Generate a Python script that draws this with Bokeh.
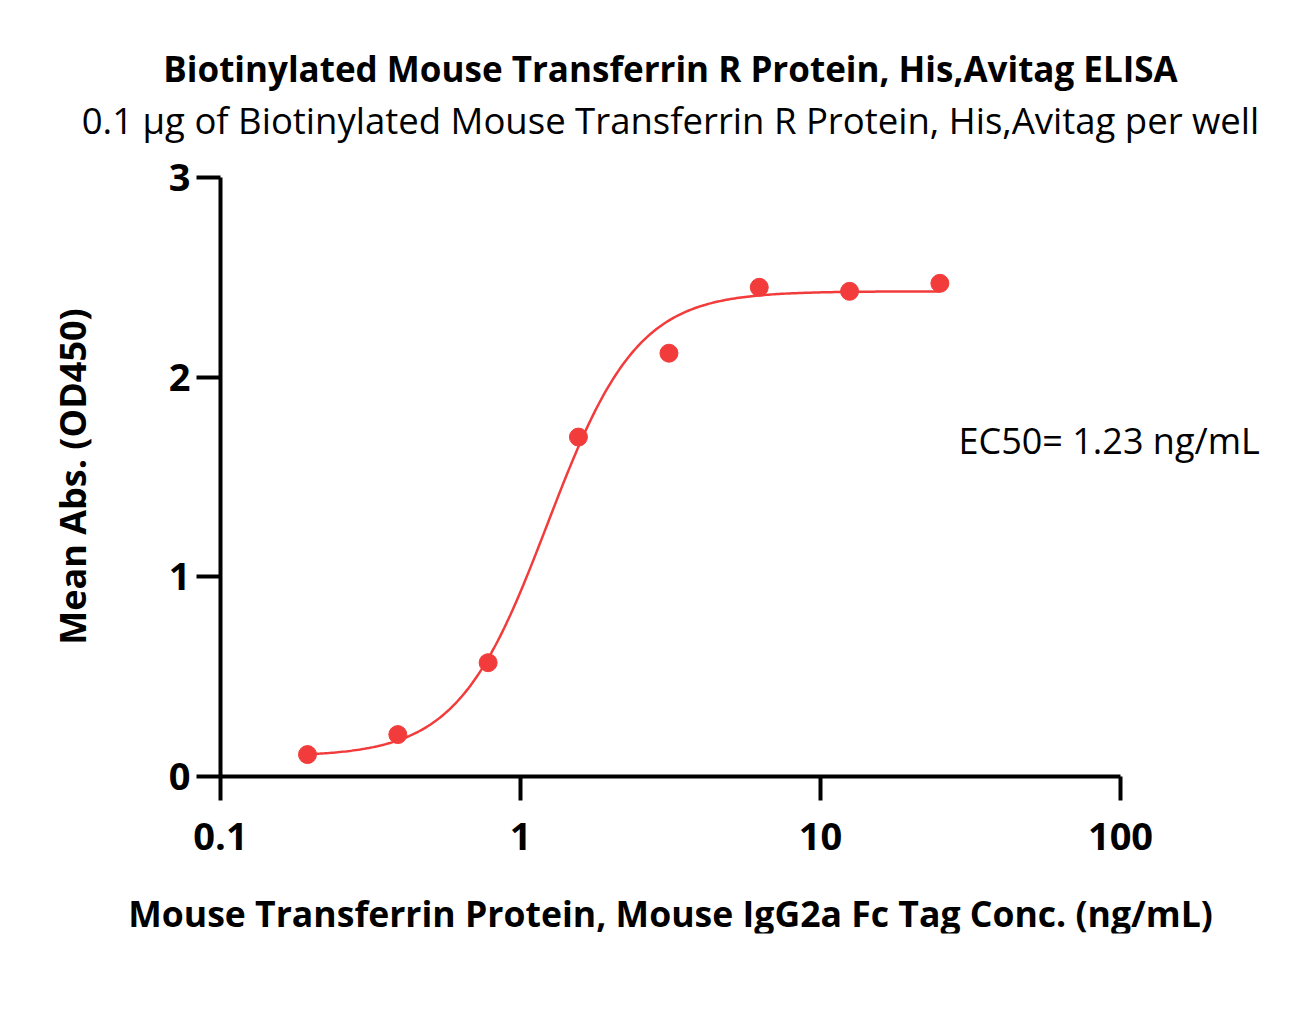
import math
import numpy as np
from bokeh.plotting import figure
from bokeh.models import Label, FixedTicker, CustomJSTickFormatter
from bokeh.embed import file_html
from bokeh.resources import INLINE

# ---- data ----
conc = [0.195, 0.39, 0.78, 1.56, 3.125, 6.25, 12.5, 25.0]
mean_abs = [0.11, 0.21, 0.57, 1.70, 2.12, 2.45, 2.43, 2.47]
# 4PL fit parameters
fit_bottom = 0.10
fit_top = 2.43
fit_ec50 = 1.23
fit_hill = 2.9
x_ticks = [0.1, 1, 10, 100]
y_ticks = [0, 1, 2, 3]

title_text = "Biotinylated Mouse Transferrin R Protein, His,Avitag ELISA"
subtitle_text = "0.1 \u03bcg of Biotinylated Mouse Transferrin R Protein, His,Avitag per well"
x_label = "Mouse Transferrin Protein, Mouse IgG2a Fc Tag Conc. (ng/mL)"
y_label = "Mean Abs. (OD450)"
ec50_text = "EC50= 1.23 ng/mL"

FONT = "Open Sans"
RED = "#F23C3C"

xs = np.logspace(np.log10(conc[0]), np.log10(conc[-1]), 300)
ys = fit_bottom + (fit_top - fit_bottom) / (1 + (fit_ec50 / xs) ** fit_hill)

# layout (page pixels): axes span x 220..1120 (0.1..100), y 776..177 (0..3)
FL, FR, FT, FB = 54, 1286, 8, 933
BOTTOM = 97
W, H = FR + 14, FB + BOTTOM
FW, FH = FR - FL, FB - FT
AX_L, AX_B = 220, 776
PX_DEC = 300.0          # pixels per decade on x
PX_UNIT = 599.0 / 3.0   # pixels per unit on y


def px_to_x(px):
    return 0.1 * 10 ** ((px - AX_L) / PX_DEC)


def py_to_y(py):
    return (AX_B - py) / PX_UNIT


p = figure(width=W, height=H, x_axis_type="log",
           x_range=(px_to_x(FL), px_to_x(FR)), y_range=(py_to_y(FB), py_to_y(FT)),
           output_backend="svg", toolbar_location=None,
           min_border_left=FL, min_border_top=FT,
           min_border_right=W - FR, min_border_bottom=BOTTOM,
           frame_width=FW, frame_height=FH)
p.outline_line_color = None
p.grid.visible = False
p.title.visible = False
p.background_fill_color = "white"

p.line(xs, ys, line_color=RED, line_width=2.5)
p.scatter(conc, mean_abs, size=18, fill_color=RED, line_color=RED)

for ax in (p.xaxis[0], p.yaxis[0]):
    ax.axis_line_width = 4
    ax.axis_line_color = "black"
    ax.major_tick_line_width = 4
    ax.major_tick_line_color = "black"
    ax.major_tick_out = 24
    ax.major_tick_in = 0
    ax.minor_tick_line_color = None
    ax.major_label_text_font = FONT
    ax.major_label_text_font_style = "bold"
    ax.major_label_text_font_size = "38px"
    ax.major_label_text_color = "black"

p.xaxis.bounds = (x_ticks[0], x_ticks[-1])
p.yaxis.bounds = (y_ticks[0], y_ticks[-1])
p.yaxis.fixed_location = x_ticks[0]
p.xaxis.fixed_location = y_ticks[0]
p.xaxis.ticker = FixedTicker(ticks=x_ticks)
p.xaxis.formatter = CustomJSTickFormatter(code="return tick < 1 ? tick.toString() : tick.toFixed(0);")
p.yaxis.ticker = FixedTicker(ticks=y_ticks)
p.xaxis.major_label_standoff = 22
p.yaxis.major_label_standoff = 6

x_mid = (x_ticks[0] * x_ticks[-1]) ** 0.5
p.add_layout(Label(x=x_mid, y=py_to_y(68), text=title_text, text_font=FONT,
                   text_font_size="35px", text_font_style="bold", text_align="center",
                   text_baseline="middle", text_color="black"))
p.add_layout(Label(x=x_mid, y=py_to_y(119), text=subtitle_text, text_font=FONT,
                   text_font_size="36.5px", text_align="center",
                   text_baseline="middle", text_color="black"))
p.add_layout(Label(x=px_to_x(958), y=py_to_y(440), text=ec50_text,
                   text_font=FONT, text_font_size="36px", text_baseline="middle",
                   text_align="left", text_color="black"))
p.add_layout(Label(x=px_to_x(72), y=py_to_y(476), text=y_label, angle=math.pi / 2,
                   text_font=FONT, text_font_size="36px", text_font_style="bold",
                   text_baseline="middle", text_align="center", text_color="black"))
p.add_layout(Label(x=x_mid, y=py_to_y(912), text=x_label,
                   text_font=FONT, text_font_size="35.6px", text_font_style="bold",
                   text_baseline="middle", text_align="center", text_color="black"))

open("out.html", "w").write(file_html(p, INLINE))
